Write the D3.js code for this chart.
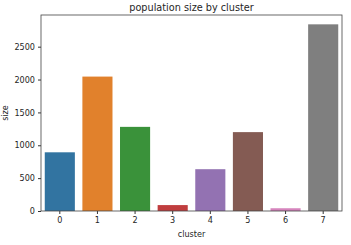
<!DOCTYPE html>
<html><head><meta charset="utf-8">
<script src="https://cdn.jsdelivr.net/npm/d3@7"></script>
<style>body{margin:0;background:#fff}svg{display:block}text{font-family:"DejaVu Sans",sans-serif;fill:#262626}</style>
</head><body>
<svg id="c" width="351" height="245"></svg>
<script>
const clusters = ["0","1","2","3","4","5","6","7"];
const sizes = [893, 2045, 1280, 90, 636, 1200, 42, 2840];
const colors = ["#3274a1","#e1812c","#3a923a","#c03d3e","#9372b2","#845b53","#d684bd","#7f7f7f"];
const yTicks = [0,500,1000,1500,2000,2500];

const svg = d3.select("#c");
const m = {l:41, r:342, t:15, b:211};
const x = d3.scaleBand().domain(clusters).range([m.l, m.r]).paddingInner(0.2).paddingOuter(0.1);
const y = d3.scaleLinear().domain([0, d3.max(sizes)*1.05]).range([m.b, m.t]);

svg.selectAll("rect.bar").data(sizes).join("rect").attr("class","bar")
  .attr("x",(d,i)=>x(clusters[i])).attr("width",x.bandwidth())
  .attr("y",d=>y(d)).attr("height",d=>m.b-y(d))
  .attr("fill",(d,i)=>colors[i]);

const ax = svg.append("g").attr("transform",`translate(0,${m.b})`)
  .call(d3.axisBottom(x).tickSize(3).tickPadding(3));
const ay = svg.append("g").attr("transform",`translate(${m.l},0)`)
  .call(d3.axisLeft(y).tickValues(yTicks).tickFormat(d3.format("d")).tickSize(3).tickPadding(3));
[ax,ay].forEach(g=>{g.select(".domain").remove();g.selectAll("text").style("font-size","8.1px").attr("fill","#262626");g.selectAll("line").attr("stroke","#333");});

svg.append("rect").attr("x",m.l).attr("y",m.t).attr("width",m.r-m.l).attr("height",m.b-m.t)
  .attr("fill","none").attr("stroke","#444").attr("stroke-width",0.8);

svg.append("text").attr("x",(m.l+m.r)/2).attr("y",11).attr("text-anchor","middle").style("font-size","9.7px").text("population size by cluster");
svg.append("text").attr("x",(m.l+m.r)/2).attr("y",237).attr("text-anchor","middle").style("font-size","8.1px").text("cluster");
svg.append("text").attr("transform",`translate(8,${(m.t+m.b)/2}) rotate(-90)`).attr("text-anchor","middle").style("font-size","8.1px").text("size");
</script>
</body></html>
